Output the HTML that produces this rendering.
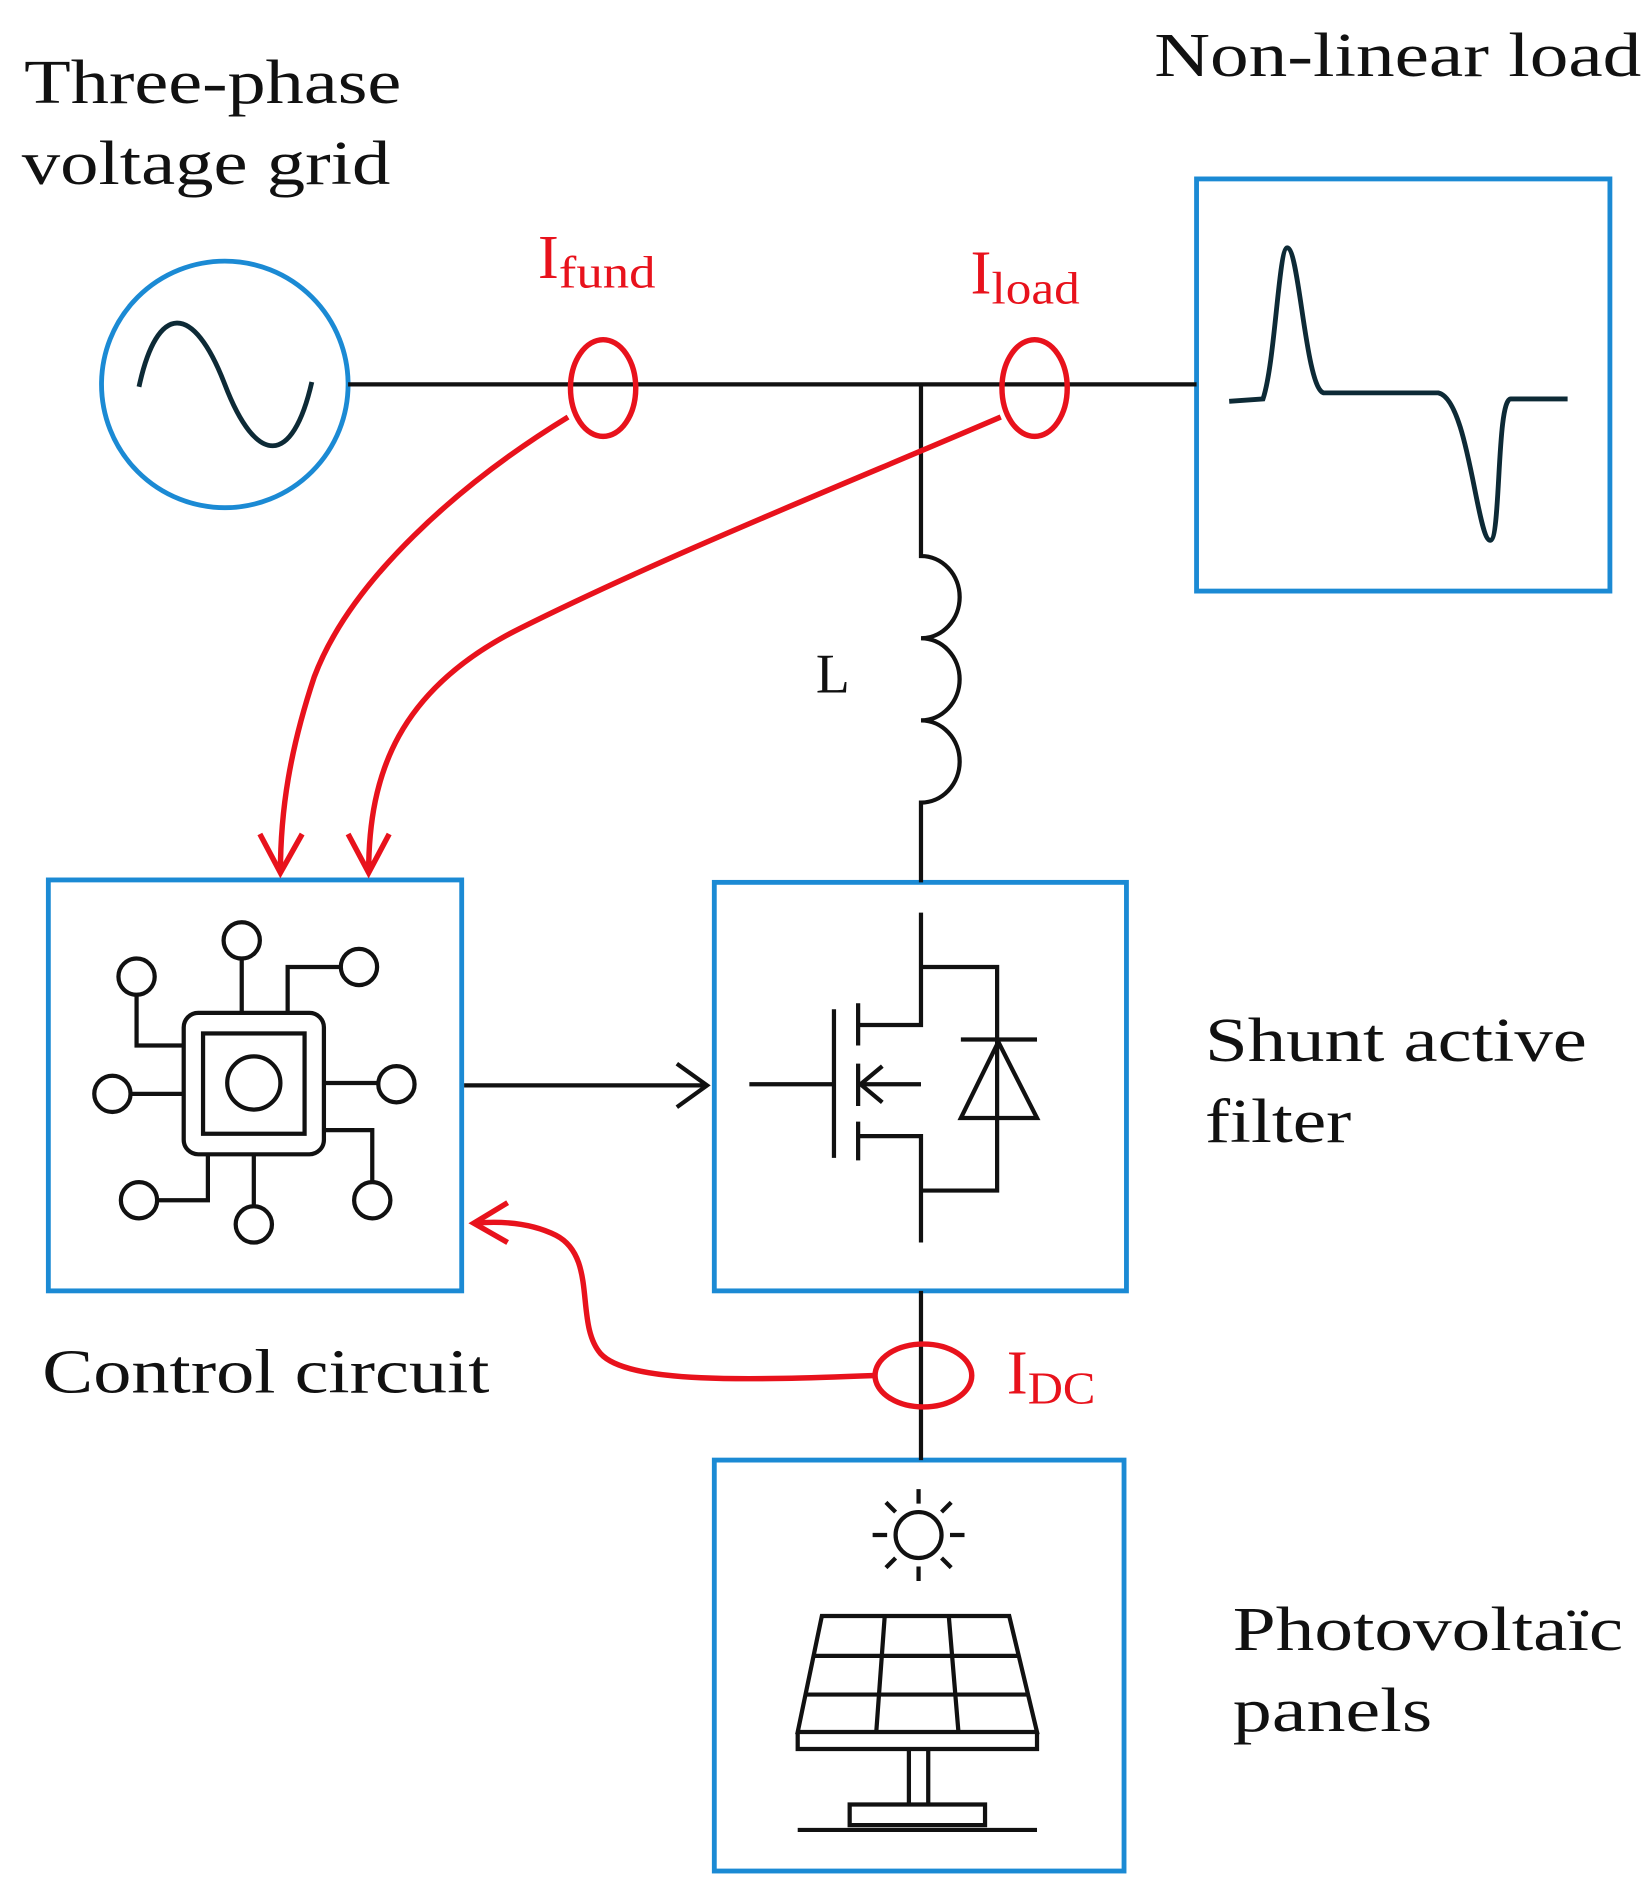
<!DOCTYPE html>
<html><head><meta charset="utf-8"><style>html,body{margin:0;padding:0;background:#fff}svg{display:block}</style></head><body>
<svg width="1651" height="1888" viewBox="0 0 1366 1562" xmlns="http://www.w3.org/2000/svg" font-family="'Liberation Serif', serif">
<g font-size="52" fill="#111" lengthAdjust="spacingAndGlyphs">
<text x="20" y="85" textLength="312" lengthAdjust="spacingAndGlyphs">Three-phase</text>
<text x="18" y="152" textLength="305" lengthAdjust="spacingAndGlyphs">voltage grid</text>
<text x="955" y="63" textLength="403" lengthAdjust="spacingAndGlyphs">Non-linear load</text>
<text x="675" y="573" font-size="46">L</text>
<text x="997" y="878" textLength="316" lengthAdjust="spacingAndGlyphs">Shunt  active</text>
<text x="997" y="945" textLength="121" lengthAdjust="spacingAndGlyphs">filter</text>
<text x="35" y="1152" textLength="370" lengthAdjust="spacingAndGlyphs">Control circuit</text>
<text x="1020" y="1365" textLength="323" lengthAdjust="spacingAndGlyphs">Photovoltaïc</text>
<text x="1020" y="1432" textLength="165" lengthAdjust="spacingAndGlyphs">panels</text>
</g>
<g fill="#e8121c" font-size="52">
<text x="445" y="230">I<tspan font-size="38" dy="8" textLength="80" lengthAdjust="spacingAndGlyphs">fund</tspan></text>
<text x="803" y="243">I<tspan font-size="38" dy="8" textLength="73" lengthAdjust="spacingAndGlyphs">load</tspan></text>
<text x="833" y="1153">I<tspan font-size="38" dy="8" textLength="56" lengthAdjust="spacingAndGlyphs">DC</tspan></text>
</g>
<g fill="none" stroke="#1b8ad4" stroke-width="4">
<circle cx="186" cy="318" r="102"/>
<rect x="990" y="148" width="342" height="341"/>
<rect x="40" y="728" width="342" height="340"/>
<rect x="591" y="730" width="341" height="338"/>
<rect x="591" y="1208" width="339" height="340"/>
</g>
<g fill="none" stroke="#0d2a36" stroke-width="4">
<path d="M115 320 C130 250,160 250,186 318 C212 386,242 386,258 316"/>
<path d="M1017 332 L1045 330 C1055 300,1058 205,1065 205 C1075 205,1080 320,1095 325 L1190 325 C1215 330,1222 447,1233 447 C1242 447,1238 330,1250 330 L1297 330"/>
</g>
<g fill="none" stroke="#111" stroke-width="3.5">
<path d="M288 318 H990"/>
<path d="M762 318 V460 a32 34 0 0 1 0 68 a32 34 0 0 1 0 68 a32 34 0 0 1 0 68 V730"/>
<path d="M762 1068 V1208"/>
<path d="M384 898 H585 M560 880 L585 898 L560 916"/>
<rect x="152" y="838" width="116" height="117" rx="12"/>
<rect x="168" y="855" width="84" height="83"/>
<circle cx="210" cy="896" r="22"/>
<path d="M200 838 V793"/><circle cx="200" cy="778" r="15"/>
<path d="M113 823 V865 H152"/><circle cx="113" cy="808" r="15"/>
<path d="M238 838 V800 H282"/><circle cx="297" cy="800" r="15"/>
<path d="M108 905 H152"/><circle cx="93" cy="905" r="15"/>
<path d="M268 896 H313"/><circle cx="328" cy="897" r="15"/>
<path d="M172 955 V993 H130"/><circle cx="115" cy="993" r="15"/>
<path d="M210 955 V998"/><circle cx="210" cy="1013" r="15"/>
<path d="M268 935 H308 V978"/><circle cx="308" cy="993" r="15"/>
<path d="M762 755 V848 H710 M710 940 H762 V1028 M762 897 H710 M620 897 H690"/>
<path d="M690 835 V958 M710 830 V865 M710 880 V915 M710 928 V960"/>
<path d="M730 882 L712 897 L730 912"/>
<path d="M762 800 H825 V925 M795 860 H858 M795 925 H858 L826 862 Z M825 925 V985 H762"/>
<circle cx="760" cy="1270" r="19"/>
<path d="M760 1232 V1244 M760 1296 V1308 M722 1270 H734 M786 1270 H798 M733 1243 L741 1251 M779 1289 L787 1297 M787 1243 L779 1251 M741 1289 L733 1297"/>
<path d="M680 1337 H835 L858 1433 H660 Z M660 1433 V1447 H858 V1433"/>
<path d="M674 1370 H843 M667 1402 H851 M732 1337 L725 1433 M785 1337 L793 1433"/>
<path d="M752 1447 V1493 M768 1447 V1493 M703 1493 H815 V1510 H703 Z M660 1514 H858"/>
</g>
<g fill="none" stroke="#e8121c" stroke-width="4.5">
<ellipse cx="499" cy="321" rx="27" ry="40"/>
<ellipse cx="856" cy="321" rx="27" ry="40"/>
<ellipse cx="764" cy="1138" rx="40" ry="26"/>
<path d="M470 345 C380 400,290 480,260 560 C240 620,232 670,232 722"/>
<path d="M215 690 L232 722 L250 690"/>
<path d="M828 345 C700 400,550 460,430 520 C330 570,305 640,305 722"/>
<path d="M288 690 L305 722 L322 690"/>
<path d="M724 1138 C620 1142,520 1145,497 1120 C475 1095,495 1040,460 1022 C440 1012,415 1010,392 1012"/>
<path d="M420 995 L392 1012 L420 1028"/>
</g>
</svg>
</body></html>
